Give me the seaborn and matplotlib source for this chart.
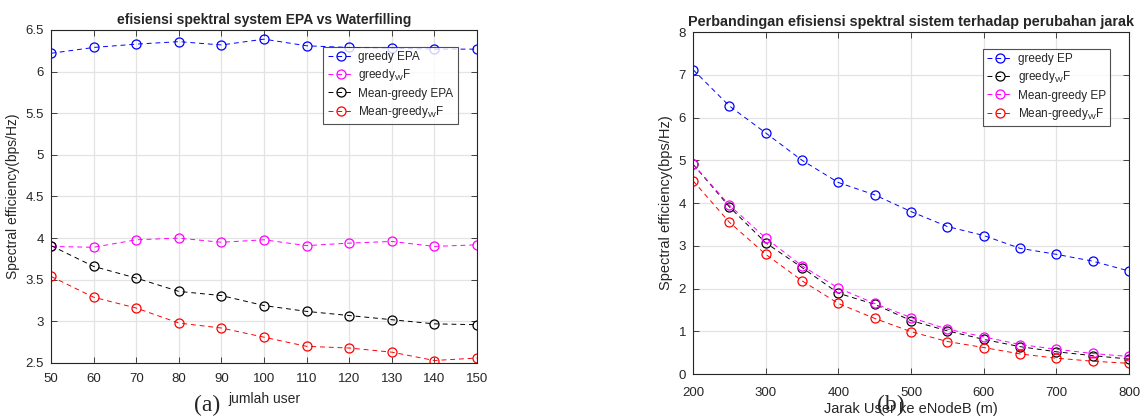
import matplotlib
matplotlib.use("Agg")
import matplotlib.pyplot as plt
import seaborn as sns
import pandas as pd

# ---------------- data ----------------
users = [50, 60, 70, 80, 90, 100, 110, 120, 130, 140, 150]
a_greedy_epa = [6.22, 6.29, 6.33, 6.36, 6.32, 6.39, 6.31, 6.29, 6.28, 6.27, 6.27]
a_greedy_wf = [3.90, 3.89, 3.98, 4.00, 3.95, 3.98, 3.91, 3.94, 3.96, 3.90, 3.92]
a_mean_epa = [3.91, 3.66, 3.52, 3.36, 3.31, 3.19, 3.12, 3.07, 3.02, 2.97, 2.96]
a_mean_wf = [3.54, 3.29, 3.16, 2.98, 2.92, 2.81, 2.70, 2.68, 2.63, 2.53, 2.56]
a_labels = ["greedy EPA", r"greedy$_\mathregular{W}$F", "Mean-greedy EPA", r"Mean-greedy$_\mathregular{W}$F"]

dist = [200, 250, 300, 350, 400, 450, 500, 550, 600, 650, 700, 750, 800]
b_greedy_ep = [7.12, 6.27, 5.64, 5.00, 4.48, 4.19, 3.80, 3.45, 3.24, 2.94, 2.80, 2.64, 2.41]
b_greedy_wf = [4.91, 3.91, 3.07, 2.49, 1.89, 1.63, 1.25, 1.01, 0.81, 0.64, 0.52, 0.43, 0.35]
b_mean_ep = [4.91, 3.95, 3.18, 2.53, 2.01, 1.65, 1.32, 1.05, 0.87, 0.69, 0.58, 0.48, 0.41]
b_mean_wf = [4.52, 3.55, 2.80, 2.18, 1.65, 1.30, 0.99, 0.76, 0.62, 0.47, 0.37, 0.30, 0.25]
b_labels = ["greedy EP", r"greedy$_\mathregular{W}$F", "Mean-greedy EP", r"Mean-greedy$_\mathregular{W}$F"]

a_xticks = [50, 60, 70, 80, 90, 100, 110, 120, 130, 140, 150]
a_yticks = [2.5, 3, 3.5, 4, 4.5, 5, 5.5, 6, 6.5]
b_xticks = [200, 300, 400, 500, 600, 700, 800]
b_yticks = [0, 1, 2, 3, 4, 5, 6, 7, 8]

# ---------------- style ----------------
sns.set_style("ticks")
plt.rcParams["font.family"] = ["Liberation Sans", "DejaVu Sans"]
plt.rcParams["mathtext.fontset"] = "custom"
plt.rcParams["mathtext.rm"] = "Liberation Sans"

fig = plt.figure(figsize=(11.44, 4.17), dpi=100)
fig.patch.set_facecolor("white")

ax1 = fig.add_axes([0.0446, 0.1295, 0.3724, 0.7986])
ax2 = fig.add_axes([0.6058, 0.1031, 0.3811, 0.8201])

def draw(ax, x, series, labels, colors):
    for ys, lab, c in zip(series, labels, colors):
        df = pd.DataFrame({"x": x, "y": ys})
        sns.lineplot(data=df, x="x", y="y", ax=ax, color=c, marker="o",
                     linestyle=(0, (5, 4)), linewidth=0.7, markersize=6.5,
                     markerfacecolor="none", markeredgecolor=c,
                     markeredgewidth=0.9, label=lab, sort=False,
                     errorbar=None)

def style_axes(ax, xticks, yticks, title, title_x, title_size, xlabel, label_size,
               legend_anchor, xpad):
    ax.set_xlim(xticks[0], xticks[-1])
    ax.set_ylim(yticks[0], yticks[-1])
    ax.set_xticks(xticks)
    ax.set_yticks(yticks)
    ax.set_xticklabels([str(t) for t in xticks])
    ax.set_yticklabels([("%g" % t) for t in yticks])
    ax.grid(True, color="#e3e3e3", linewidth=0.9)
    ax.set_axisbelow(True)
    ax.tick_params(direction="in", top=True, right=True, length=4,
                   width=0.6, labelsize=9.5, colors="#262626",
                   labelcolor="#262626", pad=5)
    ax.tick_params(axis="x", pad=xpad)
    for s in ax.spines.values():
        s.set_color("#262626")
        s.set_linewidth(0.8)
    ax.set_title(title, fontsize=title_size, fontweight="bold", pad=4, x=title_x)
    ax.set_ylabel("Spectral efficiency(bps/Hz)", fontsize=label_size, color="#262626", labelpad=4)
    ax.set_xlabel(xlabel, fontsize=label_size, color="#262626")
    leg = ax.legend(loc="upper right", bbox_to_anchor=legend_anchor,
                    fontsize=8.5, frameon=True, fancybox=False,
                    edgecolor="#262626", handlelength=2.2,
                    handletextpad=0.4, borderpad=0.35, labelspacing=0.35)
    leg.get_frame().set_linewidth(0.8)

draw(ax1, users, [a_greedy_epa, a_greedy_wf, a_mean_epa, a_mean_wf],
     a_labels, ["#0000ff", "#ff00ff", "#000000", "#ff0000"])
style_axes(ax1, a_xticks, a_yticks, "efisiensi spektral system EPA vs Waterfilling",
           0.5, 10, "jumlah user", 10, (0.968, 0.966), 7.5)
ax1.xaxis.set_label_coords(0.5, -0.088)

draw(ax2, dist, [b_greedy_ep, b_greedy_wf, b_mean_ep, b_mean_wf],
     b_labels, ["#0000ff", "#000000", "#ff00ff", "#ff0000"])
style_axes(ax2, b_xticks, b_yticks, "Perbandingan efisiensi spektral sistem terhadap perubahan jarak",
           0.5, 10.4, "Jarak User ke eNodeB (m)", 10.5, (0.97, 0.967), 9.5)
ax2.xaxis.set_label_coords(0.5, -0.082)

# captions
fig.text(207 / 1144, 1 - 405 / 417, "(a)", fontsize=17, family="Liberation Serif",
         ha="center", va="center")
fig.text(891 / 1144, 1 - 405 / 417, "(b)", fontsize=17, family="Liberation Serif",
         ha="center", va="center")

fig.savefig("out.png", dpi=100, facecolor="white")
